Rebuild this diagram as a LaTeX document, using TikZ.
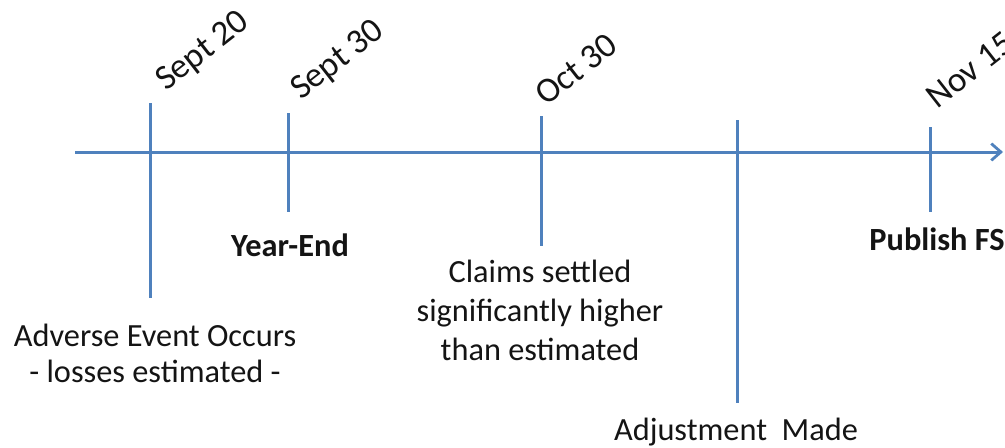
\documentclass[tikz,border=0pt]{standalone}
\usepackage{fontspec}
\setmainfont{Carlito}
\usepackage{xcolor}
\usepackage{tikz}
\usetikzlibrary{arrows.meta,positioning}
\definecolor{tl@blue}{RGB}{79,129,189}
\definecolor{tl@text}{RGB}{20,20,20}
\tikzset{
  timeline/.style={
    x={(0.025cm,0)}, y={(0,-0.025cm)},
    >={Straight Barb[length=0.24cm,width=0.42cm,line width=0.07cm]},
    every node/.style={font=\fontsize{23}{28}\selectfont, text=tl@text, inner sep=0pt}
  },
  axisline/.style={->, line width=0.075cm, draw=tl@blue},
  tickline/.style={line width=0.075cm, draw=tl@blue},
  datelabel/.style={anchor=base west, rotate=38,
    font=\fontsize{25}{30}\selectfont},             % date above a tick
  eventlabel/.style={anchor=base, align=center},    % event below a tick (base = last line)
  keylabel/.style={anchor=base, font=\fontsize{23}{28}\selectfont\bfseries}
}
\begin{document}
\begin{tikzpicture}[timeline]
\useasboundingbox (0,0) rectangle (1005,447);

% Main time axis
\coordinate (start) at (75,152);
\coordinate (stop) at (1003,152);
\draw[axisline] (start) -- (stop);

% Ticks on the axis
\foreach \name/\x/\top/\bot in {sep20/150/103/298, sep30/288/113/212,
                                oct30/541/116/246, adj/737/120/403,
                                nov15/930/127/212} {
  \coordinate (\name-top) at (\x,\top);
  \coordinate (\name-bot) at (\x,\bot);
  \draw[tickline] (\name-top) -- (\name-bot);
}

% Dates above the ticks
\node[datelabel] (d-sep20) at (166,92) {Sept 20};
\node[datelabel] (d-sep30) at (301,101) {Sept 30};
\node[datelabel] (d-oct30) at (546,107) {Oct 30};
\node[datelabel] (d-nov15) at (937,110) {Nov 15};

% Events below the ticks
\node[keylabel] (yearend) at (290,256) {Year-End};
\node[keylabel] (publish) at (937,250) {Publish FS};
\node[eventlabel, font=\fontsize{23}{27.4}\selectfont] (claims) at (540,360)
  {Claims settled\\significantly higher\\than estimated};
\node[eventlabel, font=\fontsize{23}{24.9}\selectfont] (adverse) at (155,382)
  {Adverse Event Occurs\\- losses estimated -};
\node[eventlabel] (adjust) at (736,440) {Adjustment\ \ Made};
\end{tikzpicture}
\end{document}
